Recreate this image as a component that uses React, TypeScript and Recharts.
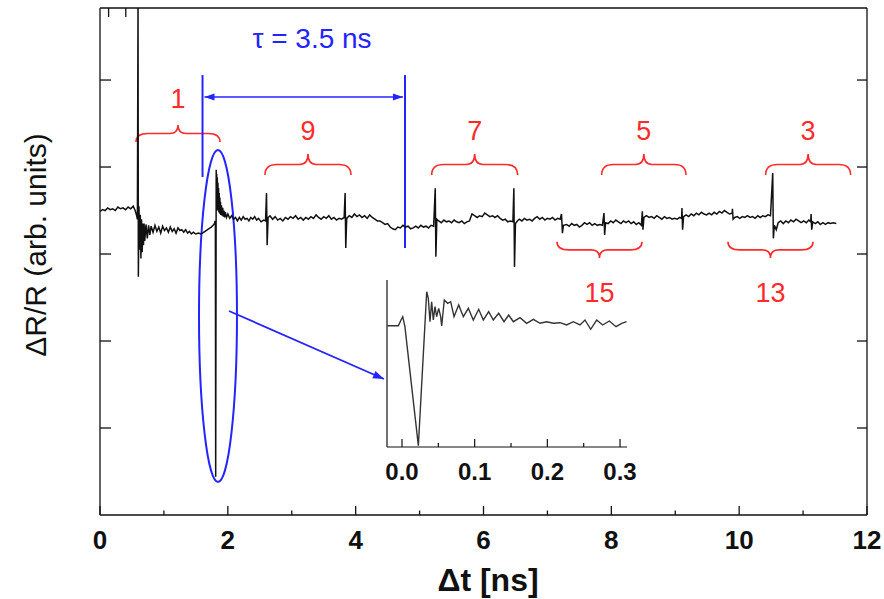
import React from 'react';
import { LineChart, Line, XAxis, YAxis, ReferenceArea, ReferenceDot } from 'recharts';

const FONT = '"Liberation Sans", Arial, Helvetica, sans-serif';
const BLUE = '#2424ff';
const RED = '#ff2b2b';
const INK = '#111';

// main transient: [delay (ns), dR/R (arb. units)]
const mainTrace: [number, number][] = [
  [0.0, 0.49], [0.04, 0.51], [0.08, 0.5], [0.12, 0.53], [0.16, 0.51], [0.2, 0.52], [0.24, 0.5],
  [0.28, 0.54], [0.32, 0.52], [0.36, 0.53], [0.4, 0.51], [0.44, 0.54], [0.48, 0.52], [0.52, 0.55],
  [0.55, 0.5], [0.57, 0.45], [0.585, 0.4], [0.595, 2.9], [0.6, -0.26], [0.61, 0.55], [0.62, 0.05],
  [0.63, 0.45], [0.64, -0.05], [0.65, 0.4], [0.66, 0.02], [0.67, 0.35], [0.68, 0.1], [0.69, 0.35],
  [0.7, 0.15], [0.72, 0.34], [0.74, 0.18], [0.76, 0.33], [0.78, 0.22], [0.8, 0.32], [0.83, 0.25],
  [0.86, 0.33], [0.89, 0.26], [0.92, 0.31], [0.95, 0.24], [0.98, 0.32], [1.01, 0.27], [1.04, 0.3],
  [1.07, 0.25], [1.1, 0.31], [1.13, 0.26], [1.16, 0.29], [1.19, 0.24], [1.22, 0.3], [1.25, 0.27],
  [1.28, 0.28], [1.31, 0.25], [1.34, 0.28], [1.37, 0.24], [1.4, 0.26], [1.43, 0.23], [1.46, 0.25],
  [1.5, 0.23], [1.54, 0.24], [1.58, 0.23], [1.62, 0.25], [1.66, 0.27], [1.7, 0.29], [1.74, 0.31],
  [1.77, 0.33], [1.79, 0.35], [1.8, 0.38], [1.805, 0.36], [1.81, -2.56], [1.818, 0.97], [1.822, 0.6],
  [1.826, 0.92], [1.83, 0.55], [1.835, 0.88], [1.84, 0.5], [1.845, 0.82], [1.85, 0.5], [1.855, 0.76],
  [1.86, 0.48], [1.865, 0.7], [1.87, 0.47], [1.875, 0.65], [1.88, 0.46], [1.885, 0.6], [1.89, 0.45],
  [1.9, 0.56], [1.91, 0.44], [1.92, 0.53], [1.93, 0.43], [1.94, 0.5], [1.95, 0.42], [1.96, 0.48],
  [1.98, 0.42], [2.0, 0.46], [2.03, 0.41],
  [2.06, 0.44], [2.09, 0.4], [2.12, 0.42], [2.15, 0.38], [2.18, 0.42], [2.21, 0.39], [2.24, 0.43],
  [2.27, 0.4], [2.3, 0.41], [2.33, 0.38], [2.36, 0.42], [2.39, 0.4], [2.42, 0.43], [2.45, 0.39],
  [2.48, 0.41], [2.52, 0.37], [2.56, 0.39], [2.59, 0.38], [2.605, 0.7], [2.615, 0.1], [2.63, 0.42],
  [2.66, 0.44], [2.7, 0.4], [2.74, 0.43], [2.78, 0.39], [2.82, 0.41], [2.86, 0.38], [2.9, 0.42],
  [2.94, 0.4], [2.98, 0.43], [3.02, 0.41], [3.06, 0.44], [3.1, 0.4], [3.14, 0.42], [3.18, 0.39],
  [3.22, 0.42], [3.26, 0.4], [3.3, 0.43], [3.34, 0.41], [3.38, 0.45], [3.42, 0.42], [3.46, 0.4],
  [3.5, 0.43], [3.54, 0.41], [3.58, 0.44], [3.62, 0.4], [3.66, 0.42], [3.7, 0.39], [3.74, 0.41],
  [3.78, 0.4], [3.82, 0.42], [3.835, 0.7], [3.845, 0.07], [3.86, 0.41], [3.9, 0.44], [3.94, 0.42],
  [3.98, 0.46], [4.02, 0.43], [4.06, 0.45], [4.1, 0.42], [4.14, 0.44], [4.18, 0.41], [4.22, 0.45],
  [4.26, 0.42], [4.3, 0.4], [4.34, 0.38], [4.38, 0.38], [4.42, 0.36], [4.46, 0.34], [4.5, 0.35],
  [4.54, 0.31], [4.58, 0.29], [4.62, 0.28], [4.66, 0.31], [4.7, 0.3], [4.74, 0.33], [4.78, 0.31],
  [4.82, 0.32], [4.86, 0.29], [4.9, 0.3], [4.94, 0.32], [4.98, 0.3], [5.02, 0.33], [5.06, 0.31],
  [5.1, 0.32], [5.14, 0.3], [5.18, 0.33], [5.22, 0.32], [5.245, 0.755], [5.255, -0.03], [5.27, 0.4],
  [5.3, 0.38], [5.34, 0.36], [5.38, 0.39], [5.42, 0.37], [5.46, 0.38], [5.5, 0.36], [5.54, 0.39],
  [5.58, 0.37], [5.62, 0.36], [5.66, 0.38], [5.7, 0.35], [5.74, 0.37], [5.78, 0.38], [5.82, 0.46],
  [5.86, 0.44], [5.9, 0.42], [5.94, 0.44], [5.98, 0.43], [6.02, 0.47], [6.06, 0.45], [6.1, 0.43],
  [6.14, 0.44], [6.18, 0.42], [6.22, 0.44], [6.26, 0.41], [6.3, 0.39], [6.34, 0.4], [6.38, 0.37],
  [6.42, 0.38], [6.46, 0.37], [6.475, 0.755], [6.485, -0.15], [6.5, 0.35], [6.53, 0.38], [6.56, 0.4],
  [6.6, 0.38], [6.64, 0.41], [6.68, 0.39], [6.72, 0.4], [6.76, 0.38], [6.8, 0.41], [6.84, 0.43],
  [6.88, 0.4], [6.92, 0.42], [6.96, 0.39], [7.0, 0.41], [7.04, 0.4], [7.08, 0.42], [7.12, 0.39],
  [7.16, 0.41], [7.2, 0.4], [7.22, 0.46], [7.235, 0.24], [7.25, 0.33], [7.3, 0.34], [7.34, 0.32],
  [7.38, 0.35], [7.42, 0.33], [7.46, 0.34], [7.5, 0.31], [7.54, 0.33], [7.58, 0.36], [7.62, 0.34],
  [7.66, 0.36], [7.7, 0.33], [7.74, 0.35], [7.78, 0.33], [7.82, 0.34], [7.86, 0.33], [7.885, 0.47],
  [7.895, 0.22], [7.91, 0.36], [7.95, 0.35], [7.99, 0.38], [8.03, 0.36], [8.07, 0.39], [8.11, 0.37],
  [8.15, 0.35], [8.19, 0.38], [8.23, 0.36], [8.27, 0.38], [8.31, 0.35], [8.35, 0.37], [8.39, 0.34],
  [8.43, 0.36], [8.47, 0.33], [8.485, 0.49], [8.495, 0.28], [8.51, 0.42], [8.55, 0.44], [8.59, 0.42],
  [8.63, 0.43], [8.67, 0.41], [8.71, 0.44], [8.75, 0.42], [8.79, 0.4], [8.83, 0.43], [8.87, 0.41],
  [8.91, 0.42], [8.95, 0.4], [8.99, 0.41], [9.03, 0.4], [9.07, 0.42], [9.1, 0.41], [9.105, 0.53],
  [9.115, 0.28], [9.13, 0.43], [9.17, 0.45], [9.21, 0.43], [9.25, 0.46], [9.29, 0.44], [9.33, 0.47],
  [9.37, 0.45], [9.41, 0.48], [9.45, 0.46], [9.49, 0.45], [9.53, 0.47], [9.57, 0.45], [9.61, 0.48],
  [9.65, 0.46], [9.69, 0.49], [9.73, 0.47], [9.77, 0.5], [9.81, 0.48], [9.85, 0.46], [9.89, 0.47],
  [9.895, 0.52], [9.905, 0.4], [9.93, 0.42], [9.97, 0.43], [10.01, 0.41], [10.05, 0.43], [10.09, 0.42],
  [10.13, 0.44], [10.17, 0.42], [10.21, 0.43], [10.25, 0.41], [10.29, 0.44], [10.33, 0.42], [10.37, 0.44],
  [10.41, 0.43], [10.45, 0.45], [10.49, 0.44], [10.525, 0.93], [10.535, 0.18], [10.55, 0.33], [10.58, 0.28],
  [10.61, 0.36], [10.65, 0.38], [10.69, 0.35], [10.73, 0.38], [10.77, 0.36], [10.81, 0.39], [10.85, 0.37],
  [10.89, 0.4], [10.93, 0.38], [10.97, 0.36], [11.01, 0.38], [11.05, 0.36], [11.09, 0.39], [11.12, 0.37],
  [11.125, 0.46], [11.135, 0.28], [11.15, 0.37], [11.19, 0.35], [11.23, 0.37], [11.27, 0.34], [11.31, 0.36],
  [11.35, 0.34], [11.39, 0.36], [11.43, 0.35], [11.47, 0.36], [11.52, 0.35],
];

// zoom of the second echo: [delay (ns), dR/R (arb. units)]
const insetTrace: [number, number][] = [
  [-0.02, 12.13], [-0.005, 12.13], [-0.0014, 12.7], [0.001, 13.03], [0.004, 12.03], [0.0225, 0.13],
  [0.034, 15.53], [0.0362, 14.87], [0.0385, 12.53], [0.0408, 14.53], [0.0431, 12.7], [0.0454, 14.03],
  [0.0477, 13.03], [0.0505, 13.87], [0.0532, 13.03], [0.0546, 12.1], [0.0582, 14.7], [0.0628, 14.37],
  [0.067, 14.53], [0.0716, 13.03], [0.078, 14.2], [0.0844, 13.03], [0.0913, 13.87], [0.0981, 12.7],
  [0.1055, 13.77], [0.1119, 12.7], [0.1193, 13.53], [0.1256, 12.7], [0.133, 13.37], [0.1404, 12.53],
  [0.1468, 13.2], [0.1532, 12.53], [0.1624, 12.93], [0.1716, 12.37], [0.1807, 12.77], [0.1899, 12.37],
  [0.1991, 12.53], [0.2082, 12.37], [0.2174, 12.43], [0.2266, 12.2], [0.2357, 12.53], [0.2449, 12.2],
  [0.2518, 12.7], [0.2596, 11.77], [0.2679, 12.7], [0.2762, 12.2], [0.2853, 12.6], [0.2945, 12.03],
  [0.3023, 12.37], [0.309, 12.53],
];

const xTicks = [0, 1, 2, 3, 4, 5, 6, 7, 8, 9, 10, 11, 12];
const yTicks = [-2, -1, 0, 1, 2];
const insetTicks = [0, 0.05, 0.1, 0.15, 0.2, 0.25, 0.3];

// echo groups marked with braces: [label, from, to, labelX]
const upperBraces: [string, number, number, number][] = [
  ['1', 0.563, 1.877, 1.22],
  ['9', 2.581, 3.927, 3.254],
  ['7', 5.189, 6.535, 5.862],
  ['5', 7.849, 9.168, 8.508],
  ['3', 10.414, 11.744, 11.079],
];
const lowerBraces: [string, number, number, number][] = [
  ['15', 7.15, 8.479, 7.815],
  ['13', 9.825, 11.155, 10.49],
];

const mainData = mainTrace.map(([t, v]) => ({ t, v }));
const insetData = insetTrace.map(([t, v]) => ({ t, v }));

const arrowHead = (x1: number, y1: number, x2: number, y2: number, len = 10, half = 3.5) => {
  const a = Math.atan2(y2 - y1, x2 - x1);
  const bx = x2 - len * Math.cos(a);
  const by = y2 - len * Math.sin(a);
  const px = -Math.sin(a) * half;
  const py = Math.cos(a) * half;
  return `M${x2},${y2} L${bx + px},${by + py} L${bx - px},${by - py} Z`;
};

const braceUp = (p: any) => {
  const { x, y, width: w, height: h } = p;
  const m = y + h * 0.5;
  const cx = x + w / 2;
  const r = w * 0.14;
  const d = `M${x},${y + h} Q${x},${m} ${x + r},${m} L${cx - r * 0.7},${m} Q${cx},${m} ${cx},${y} Q${cx},${m} ${cx + r * 0.7},${m} L${x + w - r},${m} Q${x + w},${m} ${x + w},${y + h}`;
  return <path d={d} fill="none" stroke={RED} strokeWidth={1.6} />;
};

const braceDown = (p: any) => {
  const { x, y, width: w, height: h } = p;
  const m = y + h * 0.5;
  const cx = x + w / 2;
  const r = w * 0.14;
  const b = y + h;
  const d = `M${x},${y} Q${x},${m} ${x + r},${m} L${cx - r * 0.7},${m} Q${cx},${m} ${cx},${b} Q${cx},${m} ${cx + r * 0.7},${m} L${x + w - r},${m} Q${x + w},${m} ${x + w},${y}`;
  return <path d={d} fill="none" stroke={RED} strokeWidth={1.6} />;
};

const redLabel = (text: string) => (p: any) => (
  <text x={p.cx} y={p.cy + 9.5} textAnchor="middle" fontSize={27} fontFamily={FONT} fill={RED}>
    {text}
  </text>
);

const BottomTick = (p: any) => {
  const { x, y, payload } = p;
  const major = payload.value % 2 === 0;
  return (
    <g>
      <line x1={x} x2={x} y1={y} y2={y - (major ? 9 : 4.5)} stroke={INK} strokeWidth={1.3} />
      {major && (
        <text x={x} y={y + 34} textAnchor="middle" fontSize={26} fontWeight="bold" fontFamily={FONT} fill={INK}>
          {payload.value}
        </text>
      )}
    </g>
  );
};

const TopTick = (p: any) => {
  const { x, y, payload } = p;
  const major = payload.value % 2 === 0;
  return <line x1={x} x2={x} y1={y} y2={y + (major ? 9 : 5.5)} stroke={INK} strokeWidth={1.3} />;
};

const LeftTick = (p: any) => <line x1={p.x} x2={p.x + 11} y1={p.y} y2={p.y} stroke={INK} strokeWidth={1.3} />;
const RightTick = (p: any) => <line x1={p.x} x2={p.x - 10} y1={p.y} y2={p.y} stroke={INK} strokeWidth={1.3} />;

const InsetTick = (p: any) => {
  const { x, y, payload } = p;
  const major = Math.round(payload.value * 100) % 10 === 0;
  return (
    <g>
      <line x1={x} x2={x} y1={y} y2={y - (major ? 8 : 4)} stroke={INK} strokeWidth={1.2} />
      {major && (
        <text x={x} y={y + 33} textAnchor="middle" fontSize={24} fontWeight="bold" fontFamily={FONT} fill={INK}>
          {payload.value.toFixed(1)}
        </text>
      )}
    </g>
  );
};

const App = () => {
  return (
    <div style={{ position: 'absolute', left: 0, top: 0, width: 884, height: 599, background: '#fff' }}>
      <div style={{ position: 'absolute', left: 0, top: 0 }}>
        <LineChart width={884} height={599} data={mainData} margin={{ top: 7, right: 16, bottom: 83, left: 99 }}>
          <XAxis
            dataKey="t"
            type="number"
            domain={[0, 12]}
            ticks={xTicks}
            allowDataOverflow
            height={1}
            tickSize={0}
            tickMargin={0}
            tickLine={false}
            axisLine={{ stroke: INK, strokeWidth: 1.3 }}
            tick={<BottomTick />}
            label={() => (
              <text x={488} y={591} textAnchor="middle" fontSize={32} fontWeight="bold" fontFamily={FONT} fill={INK}>
                Δt [ns]
              </text>
            )}
          />
          <XAxis
            xAxisId="top"
            orientation="top"
            type="number"
            domain={[0, 12]}
            ticks={xTicks}
            allowDataOverflow
            height={1}
            tickSize={0}
            tickMargin={0}
            tickLine={false}
            axisLine={{ stroke: INK, strokeWidth: 1.3 }}
            tick={<TopTick />}
          />
          <YAxis
            type="number"
            domain={[-3, 2.828]}
            ticks={yTicks}
            allowDataOverflow
            width={1}
            tickSize={0}
            tickMargin={0}
            tickLine={false}
            axisLine={{ stroke: INK, strokeWidth: 1.3 }}
            tick={<LeftTick />}
            label={() => (
              <text
                x={35}
                y={245}
                transform="rotate(-90 35 245)"
                textAnchor="middle"
                dominantBaseline="central"
                fontSize={30}
                fontFamily={FONT}
                fill={INK}
              >
                ΔR/R (arb. units)
              </text>
            )}
          />
          <YAxis
            yAxisId="right"
            orientation="right"
            type="number"
            domain={[-3, 2.828]}
            ticks={yTicks}
            allowDataOverflow
            width={1}
            tickSize={0}
            tickMargin={0}
            tickLine={false}
            axisLine={{ stroke: INK, strokeWidth: 1.3 }}
            tick={<RightTick />}
          />

          <Line dataKey="v" stroke={INK} strokeWidth={1.5} dot={false} type="linear" isAnimationActive={false} />

          {upperBraces.map(([lab, from, to, lx]) => {
            const first = lab === '1';
            return (
              <React.Fragment key={'u' + lab}>
                <ReferenceArea
                  x1={from}
                  x2={to}
                  y1={first ? 1.287 : 0.908}
                  y2={first ? 1.483 : 1.149}
                  shape={braceUp}
                />
                <ReferenceDot x={lx} y={first ? 1.793 : 1.425} r={0} shape={redLabel(lab)} />
              </React.Fragment>
            );
          })}
          {lowerBraces.map(([lab, from, to, lx]) => (
            <React.Fragment key={'l' + lab}>
              <ReferenceArea x1={from} x2={to} y1={-0.046} y2={0.141} shape={braceDown} />
              <ReferenceDot x={lx} y={-0.437} r={0} shape={redLabel(lab)} />
            </React.Fragment>
          ))}

          {/* period between echoes */}
          <ReferenceArea
            x1={1.604}
            x2={1.6045}
            y1={0.885}
            y2={2.057}
            shape={(p: any) => <line x1={p.x} x2={p.x} y1={p.y} y2={p.y + p.height} stroke={BLUE} strokeWidth={2} />}
          />
          <ReferenceArea
            x1={4.772}
            x2={4.7725}
            y1={0.069}
            y2={2.057}
            shape={(p: any) => <line x1={p.x} x2={p.x} y1={p.y} y2={p.y + p.height} stroke={BLUE} strokeWidth={2} />}
          />
          <ReferenceArea
            x1={1.635}
            x2={4.74}
            y1={1.8}
            y2={1.81}
            shape={(p: any) => {
              const yy = p.y + p.height / 2;
              const x1 = p.x;
              const x2 = p.x + p.width;
              return (
                <g>
                  <line x1={x1} x2={x2} y1={yy} y2={yy} stroke={BLUE} strokeWidth={1.6} />
                  <path d={arrowHead(x2, yy, x1, yy)} fill={BLUE} />
                  <path d={arrowHead(x1, yy, x2, yy)} fill={BLUE} />
                </g>
              );
            }}
          />
          <ReferenceDot
            x={3.317}
            y={2.483}
            r={0}
            shape={(p: any) => (
              <text x={p.cx} y={p.cy + 9.5} textAnchor="middle" fontSize={28} fontFamily={FONT} fill={BLUE}>
                τ = 3.5 ns
              </text>
            )}
          />

          {/* second echo, enlarged in the inset */}
          <ReferenceArea
            x1={1.549}
            x2={2.143}
            y1={-2.621}
            y2={1.195}
            shape={(p: any) => (
              <ellipse
                cx={p.x + p.width / 2}
                cy={p.y + p.height / 2}
                rx={p.width / 2}
                ry={p.height / 2}
                fill="none"
                stroke={BLUE}
                strokeWidth={2}
              />
            )}
          />
          <ReferenceArea
            x1={2.018}
            x2={4.443}
            y1={-1.437}
            y2={-0.655}
            shape={(p: any) => {
              const x1 = p.x;
              const y1 = p.y;
              const x2 = p.x + p.width;
              const y2 = p.y + p.height;
              return (
                <g>
                  <line x1={x1} y1={y1} x2={x2} y2={y2} stroke={BLUE} strokeWidth={1.8} />
                  <path d={arrowHead(x1, y1, x2, y2, 11, 4)} fill={BLUE} />
                </g>
              );
            }}
          />
        </LineChart>
      </div>

      <div style={{ position: 'absolute', left: 0, top: 0 }}>
        <LineChart width={884} height={599} data={insetData} margin={{ top: 280, right: 257, bottom: 151, left: 386 }}>
          <XAxis
            dataKey="t"
            type="number"
            domain={[-0.02064, 0.3096]}
            ticks={insetTicks}
            allowDataOverflow
            height={1}
            tickSize={0}
            tickMargin={0}
            tickLine={false}
            axisLine={{ stroke: INK, strokeWidth: 1.2 }}
            tick={<InsetTick />}
          />
          <YAxis
            type="number"
            domain={[0, 16.7]}
            allowDataOverflow
            width={1}
            tick={false}
            tickLine={false}
            axisLine={{ stroke: INK, strokeWidth: 1.2 }}
          />
          <Line dataKey="v" stroke="#333" strokeWidth={1.4} dot={false} type="linear" isAnimationActive={false} />
        </LineChart>
      </div>
    </div>
  );
};

export default App;
